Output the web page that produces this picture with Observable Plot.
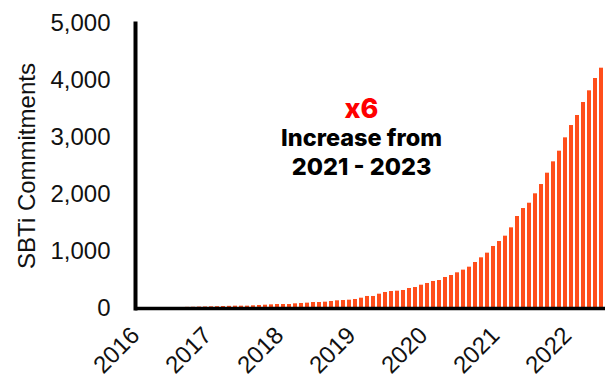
<!DOCTYPE html>
<html>
<head>
<meta charset="utf-8">
<script src="https://cdn.jsdelivr.net/npm/d3@7"></script>
<script src="https://cdn.jsdelivr.net/npm/@observablehq/plot@0.6"></script>
<style>
  html, body { margin: 0; padding: 0; background: #fff; }
</style>
</head>
<body>
<div id="chart"></div>
<script>
// Monthly cumulative SBTi commitments, Jan 2016 onward
const startYear = 2016;
const commitments = [
  0, 2, 4, 8, 10, 12, 15, 17, 20, 22, 25, 27, 30, 32, 35, 38,
  41, 41, 41, 47, 53, 58, 64, 70, 70, 70, 82, 88, 94, 105, 105, 111, 123, 135, 140, 146, 158,
  181, 211, 211, 251, 281, 298, 304, 316, 351, 368, 409, 439, 474, 491, 544, 579, 626, 673,
  725, 807, 889, 971, 1088, 1175, 1269, 1415, 1614, 1754, 1847, 2012,
  2175, 2374, 2573, 2760, 2994, 3210, 3386, 3614, 3819, 4035, 4216
];
const yearLabels = ["2016", "2017", "2018", "2019", "2020", "2021", "2022"];
const yTicks = [0, 1000, 2000, 3000, 4000, 5000];
const yLabel = "SBTi Commitments";
const annotationLines = ["x6", "Increase from", "2021 - 2023"];
const annotationValues = [3500, 2990, 2470];
const annotationMonth = "2019-02";

const months = commitments.map((_, i) =>
  `${startYear + Math.floor(i / 12)}-${String((i % 12) + 1).padStart(2, "0")}`);
const data = commitments.map((v, i) => ({month: months[i], value: v}));
const annotations = annotationLines.map((t, i) => ({
  text: t, y: annotationValues[i], month: annotationMonth, first: i === 0
}));

const chart = Plot.plot({
  width: 605,
  height: 383,
  marginLeft: 135,
  marginRight: 0,
  marginTop: 23,
  marginBottom: 75,
  style: {fontFamily: "'Liberation Sans', Arial, sans-serif", fontSize: "24px", color: "#111", background: "#fff"},
  x: {type: "band", domain: months, paddingInner: 0.35, paddingOuter: 0.1},
  y: {domain: [0, 5000]},
  marks: [
    Plot.barY(data, {x: "month", y: "value", fill: "#ff4e1b"}),
    Plot.axisY({
      ticks: yTicks, tickSize: 0, tickPadding: 25, tickFormat: d3.format(","),
      label: yLabel, labelAnchor: "center", labelOffset: 118, labelArrow: "none",
      fontSize: 24
    }),
    Plot.axisX({
      ticks: yearLabels.map(y => y + "-01"),
      tickFormat: m => yearLabels[yearLabels.indexOf(m.slice(0, 4))],
      tickRotate: -45, tickSize: 0, tickPadding: 23, dx: -4, label: null, fontSize: 24
    }),
    Plot.ruleY([0], {strokeWidth: 3.5, stroke: "#000"}),
    Plot.frame({anchor: "left", strokeWidth: 4, stroke: "#000"}),
    Plot.text(annotations, {
      x: "month", y: "y", text: "text",
      fill: d => d.first ? "#ff0000" : "#000",
      fontSize: d => d.first ? 27 : 23.5,
      fontWeight: 800,
      fontFamily: "Inter, 'Open Sans', sans-serif"
    })
  ]
});
document.getElementById("chart").appendChild(chart);
</script>
</body>
</html>
